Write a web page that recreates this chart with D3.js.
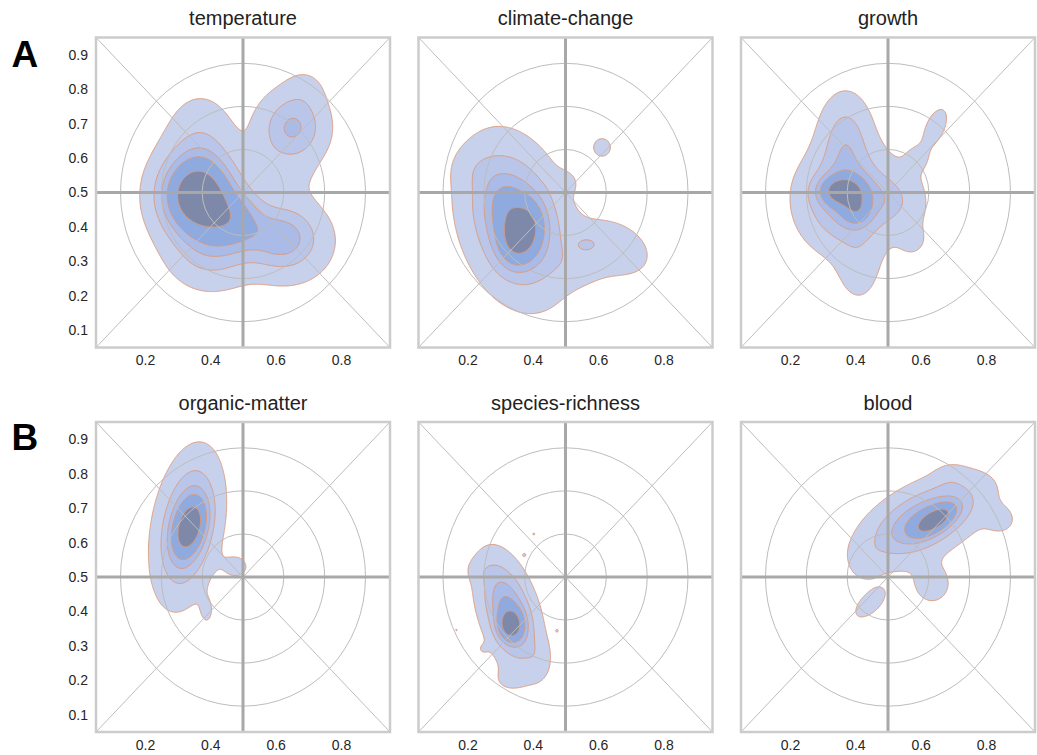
<!DOCTYPE html>
<html><head><meta charset="utf-8">
<script src="https://cdn.jsdelivr.net/npm/d3@7"></script>
<style>
body{margin:0;background:#fff;}
svg{display:block;font-family:"Liberation Sans",Arial,Helvetica,sans-serif;}
</style>
</head><body>
<svg id="chart" width="1037" height="755"></svg>
<script>
// ---------------- data ----------------
const panelTitles = ["temperature","climate-change","growth","organic-matter","species-richness","blood"];
const rowLabels = ["A","B"];
const xTickValues = [0.2,0.4,0.6,0.8];
const yTickValues = [0.1,0.2,0.3,0.4,0.5,0.6,0.7,0.8,0.9];
const axisDomain = [0.05,0.95];
const ringRadii = [0.125,0.25,0.375];
// density levels (fraction of the panel's peak density)
const densityLevels = [0.06,0.2,0.33,0.45,0.7];
const levelColors = ["#c8d1eb","#b9c6ea","#a9bbe6","#8eaadf","#7e89a9"];
// density components: [cx, cy, sx, sy, rho, weight]
const temperatureBlobs = [
  [0.36,0.49,0.075,0.078,0,1.0],
  [0.48,0.42,0.06,0.06,0,0.38],
  [0.37,0.65,0.07,0.09,0,0.16],
  [0.40,0.33,0.08,0.07,0,0.25],
  [0.62,0.37,0.07,0.06,0,0.33],
  [0.64,0.35,0.1,0.085,0,0.12],
  [0.652,0.688,0.065,0.065,0,0.38],
  [0.69,0.8,0.045,0.045,0,0.07],
  [0.68,0.54,0.05,0.05,0,0.04],
  [0.57,0.59,0.05,0.05,0,0.05]
];
const climateBlobs = [
  [0.364,0.38,0.042,0.056,0.2,0.6],
  [0.345,0.42,0.092,0.13,-0.25,0.65],
  [0.31,0.47,0.03,0.04,0,0.1],
  [0.65,0.34,0.08,0.06,-0.3,0.16],
  [0.54,0.29,0.06,0.045,0,0.1],
  [0.564,0.351,0.025,0.016,0,0.12],
  [0.612,0.631,0.028,0.028,0,0.11],
  [0.5,0.53,0.03,0.025,0,0.07],
  [0.23,0.57,0.05,0.04,0,0.06]
];
const growthBlobs = [
  [0.36,0.505,0.045,0.028,0,0.6],
  [0.405,0.45,0.03,0.03,0,0.3],
  [0.38,0.48,0.09,0.09,0,0.5],
  [0.37,0.66,0.05,0.08,0,0.28],
  [0.5,0.48,0.035,0.045,0,0.12],
  [0.41,0.28,0.045,0.07,0,0.12],
  [0.57,0.47,0.04,0.06,0,0.1],
  [0.645,0.69,0.03,0.045,0.5,0.13],
  [0.59,0.6,0.03,0.03,0,0.08],
  [0.575,0.36,0.03,0.03,0,0.09]
];
const organicBlobs = [
  [0.338,0.646,0.032,0.05,0.35,0.6],
  [0.33,0.645,0.058,0.12,0.3,0.6],
  [0.48,0.53,0.035,0.03,0,0.1],
  [0.39,0.4,0.018,0.035,0,0.08]
];
const speciesBlobs = [
  [0.332,0.36,0.025,0.03,0,0.6],
  [0.327,0.397,0.055,0.096,-0.45,0.55],
  [0.245,0.52,0.035,0.025,0,0.06],
  [0.42,0.26,0.025,0.04,0,0.08],
  [0.32,0.2,0.04,0.03,0,0.06],
  [0.245,0.29,0.015,0.015,0,0.05],
  [0.403,0.625,0.004,0.004,0,0.09],
  [0.374,0.564,0.004,0.004,0,0.09],
  [0.474,0.344,0.004,0.004,0,0.09],
  [0.166,0.346,0.0035,0.0035,0,0.085]
];
const bloodBlobs = [
  [0.644,0.665,0.039,0.028,0.61,0.6],
  [0.61,0.665,0.11,0.072,0.55,0.55],
  [0.845,0.665,0.035,0.03,0,0.1],
  [0.635,0.48,0.045,0.045,0,0.12],
  [0.445,0.423,0.04,0.036,0.59,0.12],
  [0.69,0.79,0.035,0.03,0,0.06],
  [0.43,0.54,0.03,0.035,0,0.08]
];
const panelBlobs = [temperatureBlobs,climateBlobs,growthBlobs,organicBlobs,speciesBlobs,bloodBlobs];

// ---------------- layout ----------------
const colLeft = [96,418.5,741];
const rowTop = [37.5,422];
const pw = 294, ph = 310;
const svg = d3.select("#chart");

function densityGrid(blobs, n) {
  const step = (axisDomain[1]-axisDomain[0])/(n-1);
  const comps = blobs.map(([cx,cy,sx,sy,r,w]) => ({cx,cy,sx,sy,r,w,k:1/(1-r*r)}));
  const vals = new Float64Array(n*n);
  let max = 0;
  for (let j=0;j<n;j++){
    const yv = axisDomain[0]+j*step;
    for (let i=0;i<n;i++){
      const xv = axisDomain[0]+i*step;
      let s = 0;
      for (const c of comps){
        const dx=(xv-c.cx)/c.sx, dy=(yv-c.cy)/c.sy;
        const q=(dx*dx-2*c.r*dx*dy+dy*dy)*c.k;
        if (q<40) s += c.w*Math.exp(-0.5*q);
      }
      vals[j*n+i]=s; if(s>max) max=s;
    }
  }
  return {vals,max,step};
}

panelTitles.forEach((title, idx) => {
  const row = Math.floor(idx/3), col = idx%3;
  const left = colLeft[col], top = rowTop[row];
  const x = d3.scaleLinear().domain(axisDomain).range([left,left+pw]);
  const y = d3.scaleLinear().domain(axisDomain).range([top+ph,top]);
  const g = svg.append("g");
  const clipId = "clip"+idx;
  g.append("clipPath").attr("id",clipId).append("rect")
    .attr("x",left).attr("y",top).attr("width",pw).attr("height",ph);

  // density contours
  const n = 301;
  const {vals,max,step} = densityGrid(panelBlobs[idx], n);
  const contours = d3.contours().size([n,n]).thresholds(densityLevels.map(f=>f*max))(vals);
  const proj = d3.geoTransform({point:function(px,py){
    this.stream.point(x(axisDomain[0]+(px-0.5)*step), y(axisDomain[0]+(py-0.5)*step));
  }});
  const path = d3.geoPath(proj);
  g.append("g").attr("clip-path",`url(#${clipId})`)
    .selectAll("path").data(contours).join("path")
    .attr("d",path)
    .attr("fill",(d,i)=>levelColors[i])
    .attr("stroke","#dc9878").attr("stroke-width",0.9).attr("stroke-linejoin","round");

  // rings and diagonals
  const guides = g.append("g").attr("fill","none").attr("stroke","#bdbdbd").attr("stroke-width",1);
  ringRadii.forEach(r=>{
    guides.append("ellipse").attr("cx",x(0.5)).attr("cy",y(0.5))
      .attr("rx",x(0.5+r)-x(0.5)).attr("ry",y(0.5)-y(0.5+r));
  });
  guides.append("line").attr("x1",x(axisDomain[0])).attr("y1",y(axisDomain[0])).attr("x2",x(axisDomain[1])).attr("y2",y(axisDomain[1]));
  guides.append("line").attr("x1",x(axisDomain[0])).attr("y1",y(axisDomain[1])).attr("x2",x(axisDomain[1])).attr("y2",y(axisDomain[0]));

  // crosshair
  const cross = g.append("g").attr("stroke","#a8a8a8").attr("stroke-width",3);
  cross.append("line").attr("x1",x(0.5)).attr("x2",x(0.5)).attr("y1",y(axisDomain[0])).attr("y2",y(axisDomain[1]));
  cross.append("line").attr("y1",y(0.5)).attr("y2",y(0.5)).attr("x1",x(axisDomain[0])).attr("x2",x(axisDomain[1]));

  // frame
  g.append("rect").attr("x",left).attr("y",top).attr("width",pw).attr("height",ph)
    .attr("fill","none").attr("stroke","#cccccc").attr("stroke-width",2.5);

  // axes
  const xa = g.append("g").attr("transform",`translate(0,${top+ph})`)
    .call(d3.axisBottom(x).tickValues(xTickValues).tickSize(0).tickPadding(8).tickFormat(d3.format(".1f")));
  xa.select(".domain").remove();
  xa.selectAll("text").attr("font-size",14).attr("fill","#262626").attr("font-family",null);
  if (col===0){
    const ya = g.append("g").attr("transform",`translate(${left},0)`)
      .call(d3.axisLeft(y).tickValues(yTickValues).tickSize(0).tickPadding(8).tickFormat(d3.format(".1f")));
    ya.select(".domain").remove();
    ya.selectAll("text").attr("font-size",14).attr("fill","#262626").attr("font-family",null);
  }
  // title
  g.append("text").attr("x",left+pw/2).attr("y",top-12.5).attr("text-anchor","middle")
    .attr("font-size",20).attr("fill","#222").text(title);
});

rowLabels.forEach((lab,i)=>{
  svg.append("text").attr("x",11.5).attr("y",[66.7,450][i])
    .attr("font-size",37).attr("font-weight","bold").attr("fill","#000").text(lab);
});
</script>
</body></html>
